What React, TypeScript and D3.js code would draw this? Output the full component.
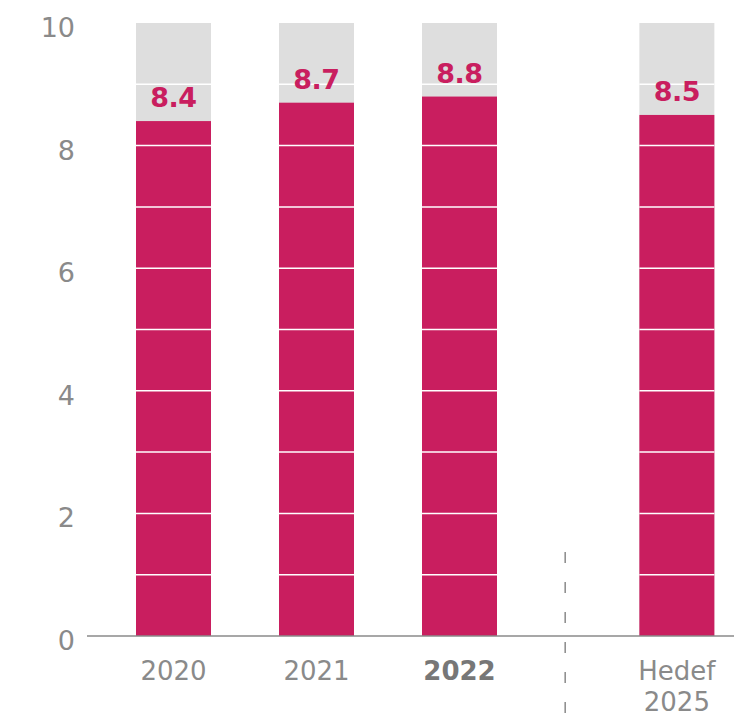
import React from "react";
import * as d3 from "d3";

const categories = ["2020", "2021", "2022", "Hedef 2025"];
const values = [8.4, 8.7, 8.8, 8.5];
const slots = [0, 1, 2, 3.52];
const boldCategory = "2022";
const yTicks = [0, 2, 4, 6, 8, 10];
const maxValue = 10;

const W = 734;
const H = 716;
const RED = "#C91E5F";
const GRAY_BG = "#DEDEDE";
const TEXT_GRAY = "#8a8a8a";
const FONT = "'DejaVu Sans', sans-serif";

export default function App() {
  const y = d3.scaleLinear().domain([0, maxValue]).range([636, 23]);
  const x = d3.scaleLinear().domain([0, 1]).range([173.5, 316.5]);
  const barW = 75;
  const units = d3.range(1, maxValue);
  const sepX = (x(2) + x(slots[3])) / 2 - 3;

  return (
    <svg width={W} height={H} style={{ position: "absolute", left: 0, top: 0 }} fontFamily={FONT}>
      {categories.map((c, i) => {
        const cx = x(slots[i]);
        return (
          <g key={c}>
            <rect x={cx - barW / 2} y={y(maxValue)} width={barW} height={y(0) - y(maxValue)} fill={GRAY_BG} />
            <rect x={cx - barW / 2} y={y(values[i])} width={barW} height={y(0) - y(values[i])} fill={RED} />
            {units.map((u) => (
              <line key={u} x1={cx - barW / 2} x2={cx + barW / 2} y1={y(u)} y2={y(u)} stroke="#fff" strokeWidth={1.5} />
            ))}
            <text x={cx} y={y(values[i]) - 14} textAnchor="middle" fill={RED} fontSize={27} fontWeight={700} letterSpacing={-0.5}>
              {values[i].toFixed(1)}
            </text>
          </g>
        );
      })}
      {yTicks.map((t) => (
        <text key={t} x={75} y={y(t) + 14} textAnchor="end" fill={TEXT_GRAY} fontSize={27}>
          {t}
        </text>
      ))}
      <line x1={87} x2={W} y1={y(0)} y2={y(0)} stroke="#8a8a8a" strokeWidth={1.5} />
      <line x1={sepX} x2={sepX} y1={552} y2={H} stroke="#8a8a8a" strokeWidth={1.5} strokeDasharray="11,19" />
      {categories.map((c, i) => {
        const cx = x(slots[i]);
        const parts = c.split(" ");
        const bold = c === boldCategory;
        return (
          <text key={c} x={cx} y={680} textAnchor="middle" fill={bold ? "#777" : TEXT_GRAY} fontSize={26} fontWeight={bold ? 700 : 400}>
            {parts.map((p, j) => (
              <tspan key={j} x={cx} dy={j === 0 ? 0 : 31}>
                {p}
              </tspan>
            ))}
          </text>
        );
      })}
    </svg>
  );
}
